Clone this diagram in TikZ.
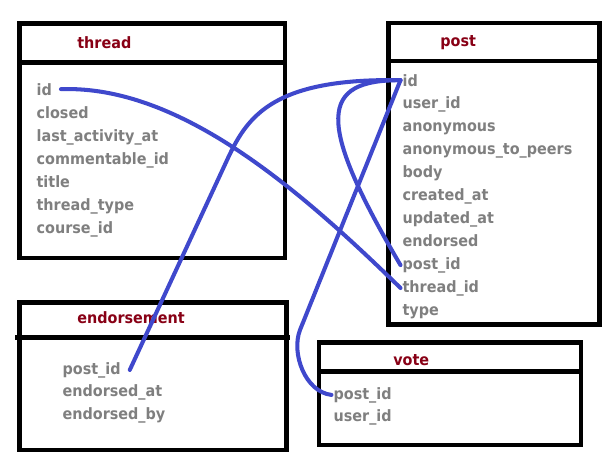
\documentclass[tikz,border=0pt]{standalone}
\usepackage{fontspec}
\setmainfont[FakeStretch=0.92]{DejaVu Sans}
\usepackage{tikz}

\definecolor{linkblue}{HTML}{3F48CC}
\definecolor{titlered}{HTML}{880015}
\definecolor{fieldgray}{HTML}{7F7F7F}

\tikzset{
  tablebox/.style={line width=2.65pt},
  tabletitle/.style={anchor=base west,inner sep=0pt,text=titlered,font=\bfseries\fontsize{8.9}{10}\selectfont},
  field/.style={anchor=base west,inner sep=1pt,text=fieldgray,font=\bfseries\fontsize{8.9}{10}\selectfont},
  link/.style={draw=linkblue,line width=2.3pt,line cap=round}
}

\begin{document}
\begin{tikzpicture}[x=0.02cm,y=-0.02cm]
  \useasboundingbox (0,0) rectangle (611,460);
  % tables
  \draw[tablebox] (19.5,23.5) rectangle (285,258) (19.5,62.5) -- (285,62.5);
  \draw[tablebox] (388.5,23) rectangle (599.5,324.5) (388.5,61) -- (599.5,61);
  \draw[tablebox] (19.5,302.5) rectangle (286.5,450) (15,337.5) -- (290,337.5);
  \draw[tablebox] (319,342.5) rectangle (581,445) (319,371.5) -- (581,371.5);
  \node[tabletitle] (thread) at (77,48) {thread};
  \node[tabletitle] (post) at (440,46) {post};
  \node[tabletitle] (endorsement) at (77,323) {endorsement};
  \node[tabletitle] (vote) at (393,365) {vote};
  \foreach \f [count=\i] in {id,closed,last\_activity\_at,commentable\_id,title,thread\_type,course\_id}
    \node[field] (t\i) at (34.5,{95+23*(\i-1)}) {\f};
  \foreach \f [count=\i] in {id,user\_id,anonymous,anonymous\_to\_peers,body,created\_at,updated\_at,endorsed,post\_id,thread\_id,type}
    \node[field] (p\i) at (400.5,{86+22.9*(\i-1)}) {\f};
  \foreach \f [count=\i] in {post\_id,endorsed\_at,endorsed\_by}
    \node[field] (e\i) at (60.5,{374+22.5*(\i-1)}) {\f};
  \foreach \f [count=\i] in {post\_id,user\_id}
    \node[field] (v\i) at (331.5,{399+22*(\i-1)}) {\f};
  % keys
  \draw[link] ([xshift=4pt]t1.east) .. controls (180,85) and (300,190) .. (p10.west);
  \draw[link] ([xshift=4pt]e1.east) -- (228,158) .. controls (248,115) and (275,78) .. (p1.west);
  \draw[link] (p9.west) .. controls (315,120) and (320,80) .. (p1.west);
  \draw[link] (v1.west) .. controls (305,392) and (291,353) .. (300,330) -- (p1.west);
\end{tikzpicture}
\end{document}
